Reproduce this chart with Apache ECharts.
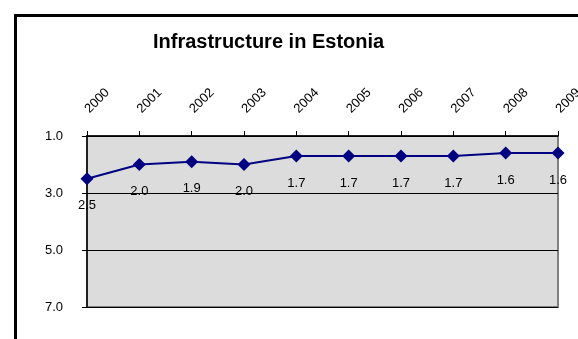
<!DOCTYPE html>
<html>
<head>
<meta charset="utf-8">
<script src="https://cdn.jsdelivr.net/npm/echarts@6/dist/echarts.min.js"></script>
<style>
  html, body { margin: 0; padding: 0; background: #fff; }
  #chart { width: 578px; height: 339px; }
</style>
</head>
<body>
<div id="chart"></div>
<script>
// Infrastructure score for Estonia by year (lower is better, axis inverted)
const years = ['2000', '2001', '2002', '2003', '2004', '2005', '2006', '2007', '2008', '2009'];
const scores = [2.5, 2.0, 1.9, 2.0, 1.7, 1.7, 1.7, 1.7, 1.6, 1.6];
const yMin = 1, yMax = 7, yStep = 2;

const chart = echarts.init(document.getElementById('chart'), null, { renderer: 'canvas' });
const font = 'Liberation Sans, Arial, sans-serif';

chart.setOption({
  animation: false,
  backgroundColor: '#ffffff',
  title: {
    text: 'Infrastructure in Estonia',
    left: 148,
    top: 27,
    textStyle: { fontFamily: font, fontSize: 20, fontWeight: 'bold', color: '#000' }
  },
  graphic: [
    {
      type: 'rect',
      left: 13, top: 13,
      shape: { width: 620, height: 400 },
      style: { fill: 'none', stroke: '#000', lineWidth: 3 },
      silent: true, z: 10
    }
  ],
  grid: {
    left: 87, top: 136, right: 20, bottom: 32,
    outerBoundsMode: 'none',
    containLabel: false,
    show: true,
    backgroundColor: '#dcdcdc',
    borderColor: '#808080',
    borderWidth: 2
  },
  xAxis: {
    type: 'category',
    data: years,
    position: 'top',
    boundaryGap: false,
    axisLine: { lineStyle: { color: '#000', width: 1.5 } },
    axisTick: { show: true, inside: false, length: 5, lineStyle: { color: '#000' } },
    axisLabel: {
      rotate: -45, margin: 25, interval: 0,
      fontFamily: font, fontSize: 13, color: '#000'
    },
    splitLine: { show: false }
  },
  yAxis: {
    type: 'value',
    inverse: true,
    min: yMin, max: yMax, interval: yStep,
    axisLine: { show: true, lineStyle: { color: '#000', width: 1.5 } },
    axisTick: { show: true, length: 5, lineStyle: { color: '#000' } },
    axisLabel: {
      margin: 24,
      formatter: v => v.toFixed(1),
      fontFamily: font, fontSize: 13, color: '#000'
    },
    splitLine: { show: true, lineStyle: { color: '#000', width: 1 } }
  },
  series: [{
    type: 'line',
    data: scores,
    symbol: 'diamond',
    symbolSize: 13,
    lineStyle: { color: '#000080', width: 2 },
    itemStyle: { color: '#000080' },
    label: {
      show: true,
      position: 'bottom',
      distance: 14,
      formatter: p => p.value.toFixed(1),
      fontFamily: font, fontSize: 13, color: '#000'
    },
    clip: false
  }]
});
</script>
</body>
</html>
